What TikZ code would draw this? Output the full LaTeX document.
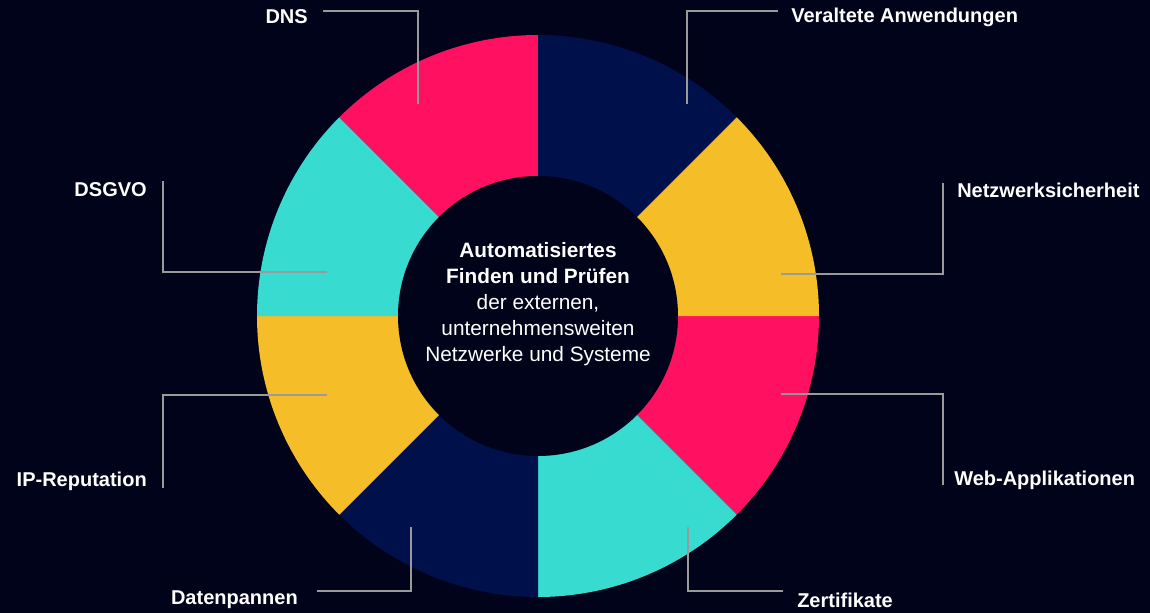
\documentclass[tikz,border=0pt]{standalone}
\usepackage{fontspec}
\setmainfont{Liberation Sans}
\usepackage{tikz}
\usetikzlibrary{positioning, calc}
\definecolor{bg}{HTML}{00031A}
\definecolor{navyseg}{HTML}{00104A}
\definecolor{pinkseg}{HTML}{FF1060}
\definecolor{tealseg}{HTML}{38DBD0}
\definecolor{yellowseg}{HTML}{F5BD27}
\definecolor{leadgray}{HTML}{9A9A9A}
\tikzset{
	x=0.75pt, y=-0.75pt,
	topic/.style={text=white, font=\fontsize{15}{18}\selectfont\bfseries, inner sep=0pt},
	leader/.style={draw=leadgray, line width=1.4pt},
	core/.style={text=white, align=center, font=\fontsize{15.6}{19.5}\selectfont, inner sep=0pt},
}

\begin{document}
\begin{tikzpicture}
			\fill[bg] (0,0) rectangle (1150,613);
			\useasboundingbox (0,0) rectangle (1150,613);
			
			% donut segments, clockwise from east
			\foreach \a/\c in {0/pinkseg, 45/tealseg, 90/navyseg, 135/yellowseg, 180/tealseg, 225/pinkseg, 270/navyseg, 315/yellowseg}
				\fill[\c] (538,316) -- ++(\a:281) arc[start angle=\a, end angle=\a+45, radius=281] -- cycle;
			\fill[bg] (538,316) circle[radius=140];
			
			\node[core] (CORE) at (538,304) {\textbf{Automatisiertes}\\ \textbf{Finden und Prüfen}\\ der externen,\\ unternehmensweiten\\ Netzwerke und Systeme};
			
			\node[topic, anchor=east] (DNS) at (308,17) {DNS};
			\node[topic, anchor=west] (VERALT) at (791,17) {Veraltete Anwendungen};
			\node[topic, anchor=east] (DSGVO) at (147,190) {DSGVO};
			\node[topic, anchor=west] (NETZ) at (957,190) {Netzwerksicherheit};
			\node[topic, anchor=east] (IPREP) at (147,481) {IP-Reputation};
			\node[topic, anchor=west] (WEB) at (954,480) {Web-Applikationen};
			\node[topic, anchor=east] (DATEN) at (298,600) {Datenpannen};
			\node[topic, anchor=west] (ZERT) at (797,600) {Zertifikate};
			
			\coordinate (pDNS) at (418,104);
			\coordinate (pVERALT) at (687,104);
			\coordinate (pDSGVO) at (327,272);
			\coordinate (pNETZ) at (781,274);
			\coordinate (pIPREP) at (327,395);
			\coordinate (pWEB) at (781,394);
			\coordinate (pDATEN) at (411,527);
			\coordinate (pZERT) at (688,527);
			
			\draw[leader] (DNS.east) ++(15,-6) -| (pDNS);
			\draw[leader] (VERALT.west) ++(-13,-6) -| (pVERALT);
			\draw[leader] (DSGVO.east) ++(16,-9) |- (pDSGVO);
			\draw[leader] (NETZ.west) ++(-14,-7) |- (pNETZ);
			\draw[leader] (IPREP.east) ++(16,7) |- (pIPREP);
			\draw[leader] (WEB.west) ++(-11,5) |- (pWEB);
			\draw[leader] (DATEN.east) ++(19,-9) -| (pDATEN);
			\draw[leader] (ZERT.west) ++(-14,-9) -| (pZERT);
		\end{tikzpicture}
\end{document}
